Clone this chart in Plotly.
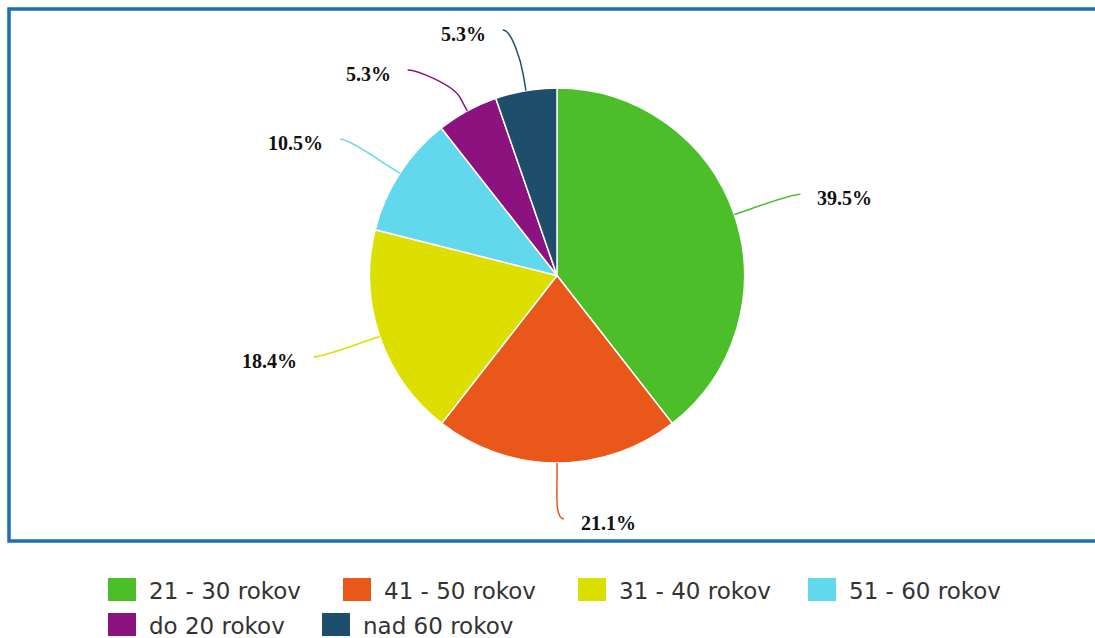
import math
import plotly.graph_objects as go

# ---- data ----
labels = ["21 - 30 rokov", "41 - 50 rokov", "31 - 40 rokov", "51 - 60 rokov", "do 20 rokov", "nad 60 rokov"]
percents = [39.5, 21.1, 18.4, 10.5, 5.3, 5.3]
colors = ["#4cbe29", "#ea571b", "#dcdf00", "#62d8ec", "#8c1280", "#1f4e6c"]

# ---- layout constants (pixels) ----
W, H = 1095, 638
CX, CY, RAD = 557.0, 275.5, 187.5
LABEL_R = 250.0
BREAK_OFF = 15.0
TOP_MIN = 30.0
BOTTOM_MAX = 519.0
MIN_GAP = 40.0


def px(x):
    return x / W


def py(y):
    return 1 - y / H


fig = go.Figure()
fig.add_trace(go.Pie(
    labels=labels,
    values=percents,
    marker=dict(colors=colors, line=dict(color="white", width=1.5)),
    sort=False,
    direction="clockwise",
    rotation=0,
    textinfo="none",
    hovertemplate="%{label}: %{value}%<extra></extra>",
    showlegend=False,
    domain=dict(x=[px(CX - RAD), px(CX + RAD)], y=[py(CY + RAD), py(CY - RAD)]),
))

shapes = []
annotations = []

# frame
shapes.append(dict(type="rect", xref="paper", yref="paper",
                   x0=px(9), x1=px(1102), y0=py(541), y1=py(9),
                   line=dict(color="#1f6fb5", width=3.5), fillcolor="rgba(0,0,0,0)", layer="above"))

# label positions from slice mid-angles
total = sum(percents)
info = []
cum = 0.0
for lab, v, col in zip(labels, percents, colors):
    theta = (cum + v / 2) / total * 2 * math.pi
    cum += v
    dx, dy = math.sin(theta), -math.cos(theta)
    right = theta <= math.pi + 1e-6
    y0 = CY + LABEL_R * dy
    info.append(dict(v=v, col=col, dx=dx, dy=dy, right=right, y=y0, xy=y0))

for side in (True, False):
    items = sorted([d for d in info if d["right"] == side], key=lambda d: d["y"])
    prev = None
    for d in items:
        y = max(d["y"], TOP_MIN)
        if prev is not None:
            y = max(y, prev + MIN_GAP)
        d["y"] = y
        d["xy"] = y
        prev = y
    for d in items:
        d["y"] = min(d["y"], BOTTOM_MAX)

for d in info:
    sgn = 1 if d["right"] else -1
    dyl = d["xy"] - CY
    xc = CX + sgn * math.sqrt(max(LABEL_R ** 2 - dyl ** 2, 0))
    ex, ey = xc + sgn * 7, d["y"]
    tx, ty = CX + RAD * d["dx"], CY + RAD * d["dy"]
    bx, by = CX + (RAD + BREAK_OFF) * d["dx"], CY + (RAD + BREAK_OFF) * d["dy"]
    c2x, c2y = 2 * bx - tx, 2 * by - ty
    c1x, c1y = ex - sgn * 9, ey
    path = (f"M {px(ex)} {py(ey)} C {px(c1x)} {py(c1y)}, {px(c2x)} {py(c2y)}, {px(bx)} {py(by)} "
            f"L {px(tx)} {py(ty)}")
    shapes.append(dict(type="path", xref="paper", yref="paper", path=path,
                       line=dict(color=d["col"], width=1.5)))
    annotations.append(dict(
        xref="paper", yref="paper",
        x=px(ex + sgn * 15), y=py(ey + 4),
        xanchor="left" if d["right"] else "right", yanchor="middle",
        text=f"<b>{d['v']:.1f}%</b>", showarrow=False,
        font=dict(family="Liberation Serif, Times New Roman, serif", size=20, color="#111111"),
    ))

# custom legend
legend_pos = [(108, 589.5), (343, 589.5), (578, 589.5), (808, 589.5), (108, 624.5), (322, 624.5)]
for (lx, ly), lab, col in zip(legend_pos, labels, colors):
    shapes.append(dict(type="rect", xref="paper", yref="paper",
                       x0=px(lx), x1=px(lx + 28), y0=py(ly + 11.5), y1=py(ly - 11.5),
                       line=dict(width=0), fillcolor=col))
    annotations.append(dict(
        xref="paper", yref="paper", x=px(lx + 39), y=py(ly + 1),
        xanchor="left", yanchor="middle", text=lab, showarrow=False,
        font=dict(family="DejaVu Sans, Verdana, sans-serif", size=23, color="#333333"),
    ))

fig.update_layout(
    width=W, height=H, autosize=False,
    margin=dict(l=0, r=0, t=0, b=0),
    paper_bgcolor="white", plot_bgcolor="white",
    shapes=shapes, annotations=annotations,
)

fig.write_html("out.html")
